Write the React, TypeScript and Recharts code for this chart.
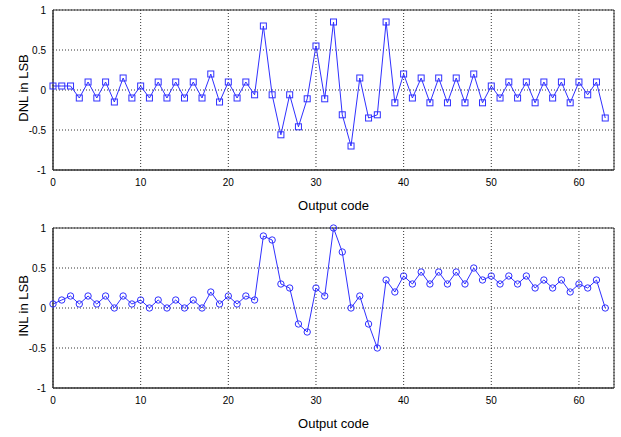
import {
  LineChart,
  Line,
  XAxis,
  YAxis,
  CartesianGrid,
  ReferenceArea,
  Label,
} from "recharts";

const CODES = Array.from({ length: 64 }, (_, i) => i);

const DNL = [
  0.05, 0.05, 0.05, -0.1, 0.1, -0.1, 0.1, -0.15, 0.15, -0.1,
  0.05, -0.1, 0.1, -0.1, 0.1, -0.1, 0.1, -0.1, 0.2, -0.15,
  0.1, -0.1, 0.1, -0.06, 0.8, -0.06, -0.56, -0.06, -0.46, -0.11,
  0.55, -0.11, 0.85, -0.31, -0.7, 0.15, -0.35, -0.31, 0.85, -0.16,
  0.2, -0.1, 0.15, -0.16, 0.15, -0.16, 0.15, -0.16, 0.2, -0.16,
  0.05, -0.1, 0.1, -0.1, 0.1, -0.16, 0.1, -0.1, 0.1, -0.16,
  0.1, -0.06, 0.1, -0.35,
];

const INL = [
  0.05, 0.1, 0.15, 0.05, 0.15, 0.05, 0.15, 0, 0.15, 0.05,
  0.1, 0, 0.1, 0, 0.1, 0, 0.1, 0, 0.2, 0.05,
  0.15, 0.05, 0.15, 0.1, 0.9, 0.85, 0.3, 0.25, -0.2, -0.3,
  0.25, 0.15, 1.0, 0.7, 0, 0.15, -0.2, -0.5, 0.35, 0.2,
  0.4, 0.3, 0.45, 0.3, 0.45, 0.3, 0.45, 0.3, 0.5, 0.35,
  0.4, 0.3, 0.4, 0.3, 0.4, 0.25, 0.35, 0.25, 0.35, 0.2,
  0.3, 0.25, 0.35, 0,
];

const X_TICKS = [0, 10, 20, 30, 40, 50, 60];
const Y_TICKS = [-1, -0.5, 0, 0.5, 1];

const BLUE = "#3030ff";
const FONT = "'Liberation Sans', Arial, sans-serif";

const SquareDot = (props: any) => {
  const { cx, cy } = props;
  if (cx == null || cy == null) return null;
  return <rect x={cx - 3} y={cy - 3} width={6} height={6} fill="none" stroke={BLUE} strokeWidth={1} />;
};

const CircleDot = (props: any) => {
  const { cx, cy } = props;
  if (cx == null || cy == null) return null;
  return <circle cx={cx} cy={cy} r={3.2} fill="none" stroke={BLUE} strokeWidth={1} />;
};

function Panel({ values, ylabel, marker }: { values: number[]; ylabel: string; marker: "square" | "circle" }) {
  const data = CODES.map((c, i) => ({ code: c, v: values[i] }));
  return (
    <LineChart width={621} height={218} data={data} margin={{ top: 10, right: 7, bottom: 0, left: 0 }}>
      <CartesianGrid stroke="#000" strokeDasharray="1 2" strokeWidth={0.8} />
      <XAxis
        dataKey="code"
        type="number"
        domain={[0, 64]}
        ticks={X_TICKS}
        interval={0}
        height={48}
        tickLine={false}
        tickMargin={3}
        axisLine={{ stroke: "#333" }}
        tick={{ fill: "#000", fontSize: 10, fontFamily: FONT }}
      >
        <Label
          content={(p: any) => {
            const vb = p.viewBox || {};
            return (
              <text
                x={vb.x + vb.width / 2}
                y={vb.y + 40}
                textAnchor="middle"
                fontSize={13}
                fontFamily={FONT}
                fill="#000"
              >
                Output code
              </text>
            );
          }}
        />
      </XAxis>
      <YAxis
        type="number"
        domain={[-1, 1]}
        ticks={Y_TICKS}
        interval={0}
        width={53}
        tickLine={false}
        tickMargin={1}
        axisLine={{ stroke: "#333" }}
        tick={{ fill: "#000", fontSize: 10, fontFamily: FONT }}
      >
        <Label
          content={() => (
            <text
              x={28}
              y={88}
              transform="rotate(-90 28 88)"
              textAnchor="middle"
              fontSize={13}
              fontFamily={FONT}
              fill="#000"
            >
              {ylabel}
            </text>
          )}
        />
      </YAxis>
      <ReferenceArea x1={0} x2={64} y1={-1} y2={1} fill="none" stroke="#333" strokeWidth={1} ifOverflow="visible" />
      <Line
        type="linear"
        dataKey="v"
        stroke={BLUE}
        strokeWidth={1}
        dot={marker === "square" ? <SquareDot /> : <CircleDot />}
        activeDot={false}
        isAnimationActive={false}
      />
    </LineChart>
  );
}

export default function App() {
  return (
    <div style={{ position: "absolute", left: 0, top: 0, width: 621, height: 437, background: "#fff" }}>
      <Panel values={DNL} ylabel="DNL in LSB" marker="square" />
      <Panel values={INL} ylabel="INL in LSB" marker="circle" />
    </div>
  );
}
